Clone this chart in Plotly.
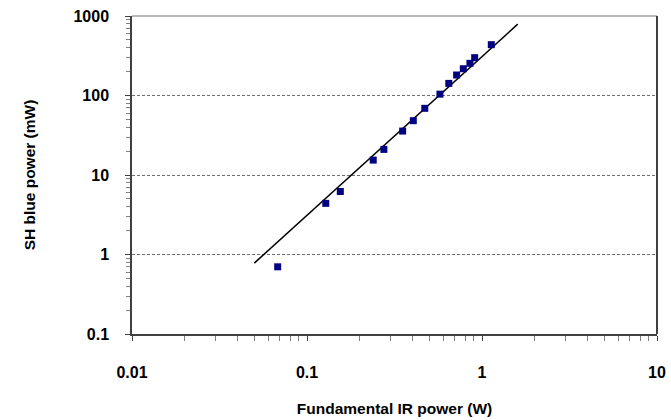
import plotly.graph_objects as go

# Measured data (Fundamental IR power in W, SH blue power in mW)
ir_power = [0.068, 0.128, 0.155, 0.239, 0.275, 0.352, 0.405, 0.471, 0.575,
            0.646, 0.716, 0.782, 0.853, 0.908, 1.13]
sh_power = [0.70, 4.4, 6.2, 15.4, 21.0, 35.7, 48.2, 69, 104,
            142, 181, 217, 254, 299, 436]

# Quadratic fit line end points
fit_x = [0.05, 1.6]
fit_y = [0.78, 790]

x_tickvals = [0.01, 0.1, 1, 10]
x_ticktext = ["0.01", "0.1", "1", "10"]
y_tickvals = [0.1, 1, 10, 100, 1000]
y_ticktext = ["0.1", "1", "10", "100", "1000"]

x_minor = [m * d for d in [0.01, 0.1, 1] for m in range(2, 10)]
y_minor = [m * d for d in [0.1, 1, 10, 100] for m in range(2, 10)]

font_main = "Liberation Sans, Arial, sans-serif"

fig = go.Figure()
fig.add_trace(go.Scatter(x=fit_x, y=fit_y, mode="lines",
                         line=dict(color="black", width=1.5), showlegend=False))
fig.add_trace(go.Scatter(x=ir_power, y=sh_power, mode="markers",
                         marker=dict(symbol="square", color="#000080", size=7,
                                     line=dict(width=0)), showlegend=False))

fig.update_layout(
    width=671, height=420,
    margin=dict(l=132, r=14, t=16, b=86),
    paper_bgcolor="white", plot_bgcolor="white",
    font=dict(family=font_main, size=15, color="black"),
    shapes=[
        dict(type="line", xref="x domain", yref="y domain", x0=0, x1=1, y0=1, y1=1,
             line=dict(color="#a0a0a0", width=1.5)),
        dict(type="line", xref="x domain", yref="y domain", x0=1, x1=1, y0=0, y1=1,
             line=dict(color="#404040", width=2)),
    ],
)

fig.update_xaxes(
    type="log", range=[-2, 1], automargin=False,
    tickvals=x_tickvals, ticktext=x_ticktext,
    tickfont=dict(family=font_main, size=16, color="black", weight="bold"),
    ticks="outside", ticklen=5, tickcolor="#404040",
    ticklabelstandoff=18,
    showline=True, linecolor="#404040", linewidth=1.5,
    showgrid=False, zeroline=False,
    minor=dict(tickvals=x_minor, ticks="outside", ticklen=5, tickcolor="#808080", showgrid=False),
    title=dict(text="<b>Fundamental IR power (W)</b>", font=dict(size=15.5, family=font_main),
               standoff=23),
)
fig.update_yaxes(
    type="log", range=[-1, 3], automargin=False,
    tickvals=y_tickvals, ticktext=y_ticktext,
    tickfont=dict(family=font_main, size=16, color="black", weight="bold"),
    ticks="outside", ticklen=5, tickcolor="#404040",
    ticklabelstandoff=13,
    showline=True, linecolor="#404040", linewidth=1.5,
    showgrid=True, gridcolor="#707070", griddash="3px,2px", gridwidth=1,
    zeroline=False,
    minor=dict(tickvals=y_minor, ticks="outside", ticklen=4, tickcolor="#808080", showgrid=False),
    title=dict(text="<b>SH blue power (mW)</b>", font=dict(size=15.5, family=font_main),
               standoff=34),
)

fig.write_html("out.html", config={"displayModeBar": False},
               post_script="document.body.style.margin='0';")
